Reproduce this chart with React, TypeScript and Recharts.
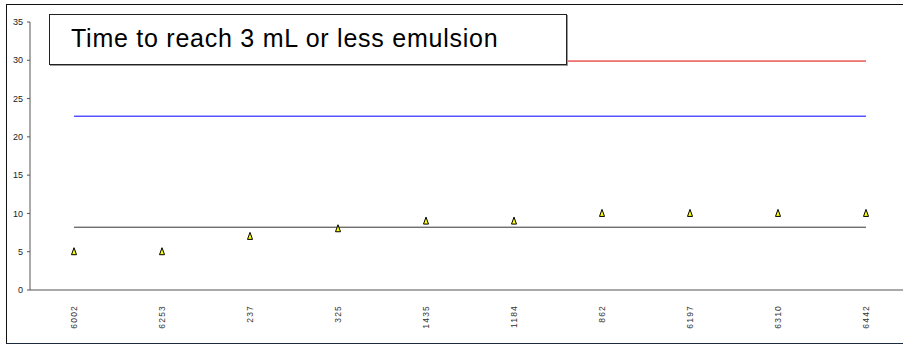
import React from 'react';
import {
  ComposedChart,
  Line,
  Scatter,
  XAxis,
  YAxis,
} from 'recharts';

// ─── Data ─────────────────────────────────────────────────────────────────────

const sampleIds = ['6002', '6253', '237', '325', '1435', '1184', '862', '6197', '6310', '6442'];
const timeValues = [5, 5, 7, 8, 9, 9, 10, 10, 10, 10];
const upperLimit = [29.9, 29.9, 29.9, 29.9, 29.9, 29.9, 29.9, 29.9, 29.9, 29.9];
const warningLimit = [22.7, 22.7, 22.7, 22.7, 22.7, 22.7, 22.7, 22.7, 22.7, 22.7];
const meanLine = [8.2, 8.2, 8.2, 8.2, 8.2, 8.2, 8.2, 8.2, 8.2, 8.2];
const yTicks = [0, 5, 10, 15, 20, 25, 30, 35];

const chartData = sampleIds.map((id, i) => ({
  idx: i,
  id,
  time: timeValues[i],
  upper: upperLimit[i],
  warning: warningLimit[i],
  mean: meanLine[i],
}));

// ─── Marker ───────────────────────────────────────────────────────────────────

const Triangle = (props: any) => {
  const { cx, cy } = props;
  if (cx == null || cy == null) return null;
  return (
    <polygon
      points={`${cx},${cy - 4} ${cx - 2.5},${cy + 3} ${cx + 2.5},${cy + 3}`}
      fill="#ffff00"
      stroke="#000"
      strokeWidth={1}
    />
  );
};

const XTick = (props: any) => {
  const { x, y, payload } = props;
  return (
    <g transform={`translate(${x + 3},${y + 7})`}>
      <text
        x={0}
        y={0}
        transform="rotate(-90)"
        textAnchor="end"
        fontSize={8.5}
        style={{ letterSpacing: '1.2px' }}
        fill="#333"
        fontFamily="Liberation Sans, Arial, sans-serif"
      >
        {sampleIds[payload.value]}
      </text>
    </g>
  );
};

// ─── Chart ────────────────────────────────────────────────────────────────────

export default function App() {
  return (
    <div
      style={{
        position: 'fixed',
        left: 0,
        top: 0,
        width: 903,
        height: 347,
        overflow: 'hidden',
        background: '#fff',
        fontFamily: 'Liberation Sans, Arial, sans-serif',
      }}
    >
      <div style={{ position: 'absolute', left: 0, top: 0 }}>
        <ComposedChart
          width={910}
          height={347}
          data={chartData}
          margin={{ top: 22, right: 0, bottom: 17, left: 0 }}
        >
          <XAxis
            dataKey="idx"
            type="number"
            domain={[-0.5, 9.5]}
            ticks={[0, 1, 2, 3, 4, 5, 6, 7, 8, 9]}
            interval={0}
            height={40}
            tickLine={false}
            axisLine={{ stroke: '#555' }}
            tick={<XTick />}
          />
          <YAxis
            domain={[0, 35]}
            ticks={yTicks}
            width={30}
            interval={0}
            tickSize={3}
            tickMargin={4}
            tickLine={{ stroke: '#555' }}
            axisLine={{ stroke: '#555' }}
            tick={{ fontSize: 9, fill: '#222', fontFamily: 'Liberation Sans, Arial, sans-serif' }}
          />
          <Line
            dataKey="upper"
            stroke="#e00000"
            strokeWidth={1}
            dot={false}
            isAnimationActive={false}
          />
          <Line
            dataKey="warning"
            stroke="#0000ff"
            strokeWidth={1}
            dot={false}
            isAnimationActive={false}
          />
          <Line
            dataKey="mean"
            stroke="#333"
            strokeWidth={1}
            dot={false}
            isAnimationActive={false}
          />
          <Scatter dataKey="time" shape={<Triangle />} isAnimationActive={false} />
        </ComposedChart>
      </div>
      {/* outer frame */}
      <div
        style={{
          position: 'absolute',
          left: 6,
          top: 4,
          width: 1000,
          height: 338,
          borderTop: '1px solid #111',
          borderLeft: '1px solid #111',
          borderBottom: '1px solid #1c2a40',
          pointerEvents: 'none',
        }}
      />
      <div
        style={{
          position: 'absolute',
          left: 49,
          top: 14,
          width: 516,
          height: 49,
          border: '1px solid #222',
          boxShadow: '1px 1px 0 #999',
          background: '#fff',
        }}
      >
        <div
          style={{
            position: 'absolute',
            left: 21,
            top: 9,
            fontSize: 25,
            letterSpacing: 0.75,
            whiteSpace: 'nowrap',
            color: '#000',
          }}
        >
          Time to reach 3 mL or less emulsion
        </div>
      </div>
    </div>
  );
}
